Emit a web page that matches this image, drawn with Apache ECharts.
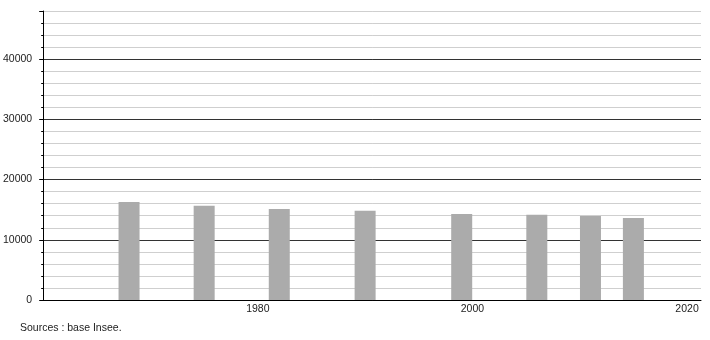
<!DOCTYPE html>
<html>
<head>
<meta charset="utf-8">
<script src="https://cdn.jsdelivr.net/npm/echarts@6/dist/echarts.min.js"></script>
<style>html,body{margin:0;padding:0;background:#fff;}#c{width:710px;height:340px;}</style>
</head>
<body>
<div id="c"></div>
<script>
const years = [1968, 1975, 1982, 1990, 1999, 2006, 2011, 2015];
const values = [16280, 15660, 15120, 14830, 14290, 14170, 13950, 13620];
const xTickLabels = [1980, 2000, 2020];
const yTickLabels = [0, 10000, 20000, 30000, 40000];
const sourceText = 'Sources : base Insee.';

const FONT = '"Liberation Sans", Arial, sans-serif';
const chart = echarts.init(document.getElementById('c'), null, {renderer: 'canvas'});
const data = years.map((y, i) => [y, values[i]]);

chart.setOption({
  animation: false,
  backgroundColor: '#fff',
  grid: {left: 43, right: 9, top: 11, bottom: 40, containLabel: false},
  xAxis: {
    type: 'value', min: 1960, max: 2021.3, interval: 20,
    axisLine: {show: true, lineStyle: {color: '#000', width: 1}},
    axisTick: {show: false},
    splitLine: {show: false},
    axisLabel: {
      color: '#222', fontFamily: FONT, fontSize: 10.5, margin: 4,
      formatter: v => xTickLabels.indexOf(v) >= 0 ? String(v) : ''
    }
  },
  yAxis: [{
    type: 'value', min: 0, max: 48000, interval: 2000,
    axisLine: {show: true, lineStyle: {color: '#000', width: 1}},
    axisTick: {show: true, length: 2, lineStyle: {color: '#000'}},
    axisLabel: {show: false},
    splitLine: {show: true, lineStyle: {color: ['#333', '#cfcfcf', '#cfcfcf', '#cfcfcf', '#cfcfcf'], width: 1}}
  }, {
    type: 'value', min: 0, max: 48000, interval: 10000, position: 'left',
    axisLine: {show: false},
    axisTick: {show: true, length: 4, lineStyle: {color: '#000'}},
    splitLine: {show: false},
    axisLabel: {
      color: '#222', fontFamily: FONT, fontSize: 10.5, margin: 11,
      formatter: v => yTickLabels.indexOf(v) >= 0 ? String(v) : ''
    }
  }],
  series: [{
    type: 'bar', data: data, barWidth: 21, yAxisIndex: 0,
    itemStyle: {color: '#ababab'}
  }],
  graphic: [{
    type: 'text', left: 20, top: 323,
    style: {text: sourceText, fill: '#222', font: '10.5px ' + FONT}
  }]
});
</script>
</body>
</html>
